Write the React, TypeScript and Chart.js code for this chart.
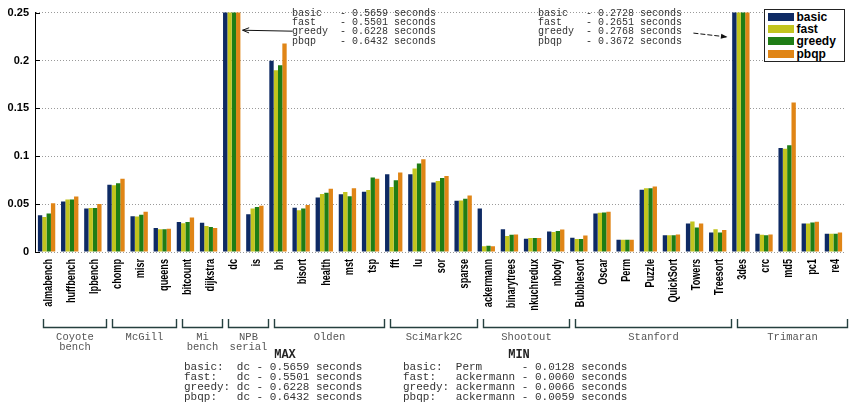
import React, { useEffect, useRef } from 'react';
import { Chart, registerables } from 'chart.js';

Chart.register(...registerables);

const categories = [
  'almabench', 'huffbench', 'lpbench', 'chomp', 'misr', 'queens', 'bitcount', 'dijkstra', 'dc', 'is',
  'bh', 'bisort', 'health', 'mst', 'tsp', 'fft', 'lu', 'sor', 'sparse', 'ackermann', 'binarytrees',
  'nkuchredux', 'nbody', 'Bubblesort', 'Oscar', 'Perm', 'Puzzle', 'QuickSort', 'Towers', 'Treesort',
  '3des', 'crc', 'md5', 'pc1', 're4',
];

const basic = [
  0.0383, 0.0528, 0.0454, 0.0701, 0.0373, 0.0251, 0.0312, 0.0305, 0.5659, 0.0393,
  0.1998, 0.0461, 0.0569, 0.0603, 0.063, 0.0813, 0.0813, 0.0725, 0.0535, 0.0454, 0.0237,
  0.0139, 0.0213, 0.0149, 0.0403, 0.0128, 0.065, 0.0176, 0.0298, 0.0203,
  0.2728, 0.019, 0.1087, 0.0298, 0.019,
];
const fast = [
  0.0366, 0.0549, 0.046, 0.0698, 0.037, 0.0237, 0.0301, 0.0271, 0.5501, 0.0454,
  0.1897, 0.0437, 0.0606, 0.0627, 0.0647, 0.0678, 0.0871, 0.0742, 0.0539, 0.006, 0.0166,
  0.0146, 0.021, 0.0136, 0.041, 0.0129, 0.0667, 0.0176, 0.0318, 0.0237,
  0.2651, 0.018, 0.1077, 0.0298, 0.019,
];
const greedy = [
  0.0403, 0.0549, 0.046, 0.0718, 0.039, 0.0237, 0.0312, 0.0261, 0.6228, 0.0471,
  0.195, 0.0454, 0.062, 0.0583, 0.0779, 0.0749, 0.0925, 0.0772, 0.0556, 0.0066, 0.018,
  0.0146, 0.022, 0.0136, 0.0413, 0.0129, 0.0667, 0.0176, 0.0257, 0.0203,
  0.2768, 0.0176, 0.1114, 0.0308, 0.019,
];
const pbqp = [
  0.0508, 0.0579, 0.0501, 0.0766, 0.042, 0.0244, 0.0359, 0.0251, 0.6432, 0.0484,
  0.2178, 0.0491, 0.066, 0.0667, 0.0766, 0.083, 0.0969, 0.0793, 0.0589, 0.0059, 0.0183,
  0.0146, 0.0234, 0.0173, 0.042, 0.0129, 0.0684, 0.0183, 0.0298, 0.023,
  0.3672, 0.0183, 0.1562, 0.0315, 0.0203,
];

const seriesNames = ['basic', 'fast', 'greedy', 'pbqp'];
const seriesColors = ['#0e2a64', '#c2c41e', '#1f7d15', '#e08516'];
const yTicks = [0, 0.05, 0.1, 0.15, 0.2, 0.25];

const groupNames = ['Coyote\nbench', 'McGill', 'Mi\nbench', 'NPB\nserial', 'Olden', 'SciMark2C', 'Shootout', 'Stanford', 'Trimaran'];
const groupSizes = [3, 3, 2, 2, 5, 4, 4, 7, 5];

const dcLines = [
  'basic   - 0.5659 seconds',
  'fast    - 0.5501 seconds',
  'greedy  - 0.6228 seconds',
  'pbqp    - 0.6432 seconds',
];
const desLines = [
  'basic   - 0.2728 seconds',
  'fast    - 0.2651 seconds',
  'greedy  - 0.2768 seconds',
  'pbqp    - 0.3672 seconds',
];
const maxLines = [
  'basic:  dc - 0.5659 seconds',
  'fast:   dc - 0.5501 seconds',
  'greedy: dc - 0.6228 seconds',
  'pbqp:   dc - 0.6432 seconds',
];
const minLines = [
  'basic:  Perm      - 0.0128 seconds',
  'fast:   ackermann - 0.0060 seconds',
  'greedy: ackermann - 0.0066 seconds',
  'pbqp:   ackermann - 0.0059 seconds',
];

const MONO = '"Liberation Mono", "DejaVu Sans Mono", monospace';

function arrow(ctx: CanvasRenderingContext2D, x1: number, y1: number, x2: number, y2: number, dashed: boolean, filled: boolean) {
  ctx.save();
  ctx.strokeStyle = '#111';
  ctx.fillStyle = '#111';
  ctx.lineWidth = 1;
  ctx.setLineDash(dashed ? [5, 2] : []);
  ctx.beginPath();
  ctx.moveTo(x1, y1);
  ctx.lineTo(x2, y2);
  ctx.stroke();
  ctx.setLineDash([]);
  const a = Math.atan2(y2 - y1, x2 - x1);
  const L = 7, w = 0.38;
  ctx.beginPath();
  ctx.moveTo(x2 - L * Math.cos(a - w), y2 - L * Math.sin(a - w));
  ctx.lineTo(x2, y2);
  ctx.lineTo(x2 - L * Math.cos(a + w), y2 - L * Math.sin(a + w));
  if (filled) {
    ctx.closePath();
    ctx.fill();
  } else {
    ctx.stroke();
  }
  ctx.restore();
}

const extrasPlugin = {
  id: 'extras',
  afterDraw(chart: any) {
    const { ctx, chartArea, scales } = chart;
    const x = scales.x;
    const y = scales.y;
    ctx.save();
    // inward tick marks on the y axis
    ctx.strokeStyle = '#000';
    ctx.lineWidth = 1;
    yTicks.forEach((v) => {
      const py = Math.round(y.getPixelForValue(v)) + 0.5;
      ctx.beginPath();
      ctx.moveTo(chartArea.left, py);
      ctx.lineTo(chartArea.left + 5, py);
      ctx.stroke();
    });
    // condensed, rotated category labels
    ctx.fillStyle = '#000';
    ctx.font = 'bold 12px "Liberation Sans", Arial';
    ctx.textAlign = 'right';
    ctx.textBaseline = 'middle';
    categories.forEach((c, i) => {
      ctx.save();
      ctx.translate(x.getPixelForValue(i) + 2, chartArea.bottom + 7);
      ctx.rotate(-Math.PI / 2);
      ctx.scale(0.76, 1);
      ctx.fillText(c, 0, 0);
      ctx.restore();
    });
    // group brackets
    let start = 0;
    const top = chartArea.bottom + 67;
    const bot = chartArea.bottom + 75.5;
    groupSizes.forEach((n, g) => {
      const x1 = Math.round(x.getPixelForValue(start - 0.5) + 8) + 0.5;
      const x2 = Math.round(x.getPixelForValue(start + n - 0.5) + 2) + 0.5;
      ctx.strokeStyle = '#25403f';
      ctx.lineWidth = 1.4;
      ctx.beginPath();
      ctx.moveTo(x1, top);
      ctx.lineTo(x1, bot);
      ctx.lineTo(x2, bot);
      ctx.lineTo(x2, top);
      ctx.stroke();
      ctx.fillStyle = '#555';
      ctx.font = `10.5px ${MONO}`;
      ctx.textAlign = 'center';
      ctx.textBaseline = 'middle';
      groupNames[g].split('\n').forEach((l, i) => {
        ctx.fillText(l, (x1 + x2) / 2, chartArea.bottom + 85 + i * 10);
      });
      start += n;
    });
    ctx.restore();
    // annotation arrows
    arrow(ctx, x.getPixelForValue(10.63), y.getPixelForValue(0.2306), x.getPixelForValue(8.47), y.getPixelForValue(0.2316), false, false);
    arrow(ctx, x.getPixelForValue(27.95), y.getPixelForValue(0.2286), x.getPixelForValue(29.42), y.getPixelForValue(0.2245), true, true);
  },
};

const textBlock = (lines: string[], left: number, top: number, size: number, lh: number, color: string) => (
  <div
    style={{
      position: 'absolute', left, top, fontFamily: MONO, fontSize: size, lineHeight: `${lh}px`,
      whiteSpace: 'pre', color,
    }}
  >
    {lines.join('\n')}
  </div>
);

export default function App() {
  const ref = useRef<HTMLCanvasElement | null>(null);

  useEffect(() => {
    document.body.style.margin = '0';
    const series = [basic, fast, greedy, pbqp];
    const chart = new Chart(ref.current as HTMLCanvasElement, {
      type: 'bar',
      data: {
        labels: categories,
        datasets: series.map((d, i) => ({
          label: seriesNames[i],
          data: d,
          backgroundColor: seriesColors[i],
          borderWidth: 0,
          barPercentage: 1,
          categoryPercentage: 0.75,
        })),
      },
      options: {
        animation: false,
        responsive: false,
        layout: { padding: { top: 6, right: 5, bottom: 103, left: 0 } },
        plugins: { legend: { display: false }, tooltip: { enabled: false } },
        scales: {
          x: {
            grid: { display: false, drawTicks: false },
            border: { display: false },
            ticks: { display: false, autoSkip: false },
            afterFit: (s: any) => { s.height = 60; },
          },
          y: {
            min: 0,
            max: 0.25,
            afterBuildTicks: (s: any) => { s.ticks = yTicks.map((v) => ({ value: v })); },
            ticks: {
              color: '#000',
              padding: 6,
              font: { family: '"Liberation Sans", Arial', size: 11, weight: 'bold' },
              callback: (v: any) => String(+Number(v).toFixed(2)),
            },
            grid: { color: '#9a9a9a', drawTicks: false, lineWidth: 1 },
            border: { display: true, color: '#000', width: 1, dash: [1, 2] },
            afterFit: (s: any) => { s.width = 35; },
          },
        },
      },
      plugins: [extrasPlugin],
    } as any);
    return () => chart.destroy();
  }, []);

  return (
    <div style={{ position: 'relative', width: 850, height: 415, background: '#fff', overflow: 'hidden' }}>
      <canvas ref={ref} width={850} height={415} style={{ display: 'block' }} />
      {textBlock(dcLines, 292, 8.5, 10, 9.4, '#333')}
      {textBlock(desLines, 538, 8.5, 10, 9.4, '#333')}
      <div
        style={{
          position: 'absolute', left: 764, top: 9, width: 81, height: 53, boxSizing: 'border-box',
          border: '1.5px solid #222', background: '#fff',
        }}
      >
        {seriesNames.map((n, i) => (
          <div key={n} style={{ position: 'absolute', left: 2.5, top: 1 + i * 12.2, height: 12, display: 'flex', alignItems: 'center' }}>
            <div style={{ width: 26, height: 8, background: seriesColors[i] }} />
            <span style={{ marginLeft: 3, fontFamily: '"Liberation Sans", Arial', fontWeight: 'bold', fontSize: 12, color: '#000', lineHeight: '12px' }}>{n}</span>
          </div>
        ))}
      </div>
      <div style={{ position: 'absolute', left: 260, top: 348, width: 50, textAlign: 'center', fontFamily: MONO, fontWeight: 'bold', fontSize: 12, color: '#222' }}>MAX</div>
      <div style={{ position: 'absolute', left: 494, top: 348, width: 50, textAlign: 'center', fontFamily: MONO, fontWeight: 'bold', fontSize: 12, color: '#222' }}>MIN</div>
      {textBlock(maxLines, 184, 362, 11, 10, '#333')}
      {textBlock(minLines, 403, 362, 11, 10, '#333')}
    </div>
  );
}
